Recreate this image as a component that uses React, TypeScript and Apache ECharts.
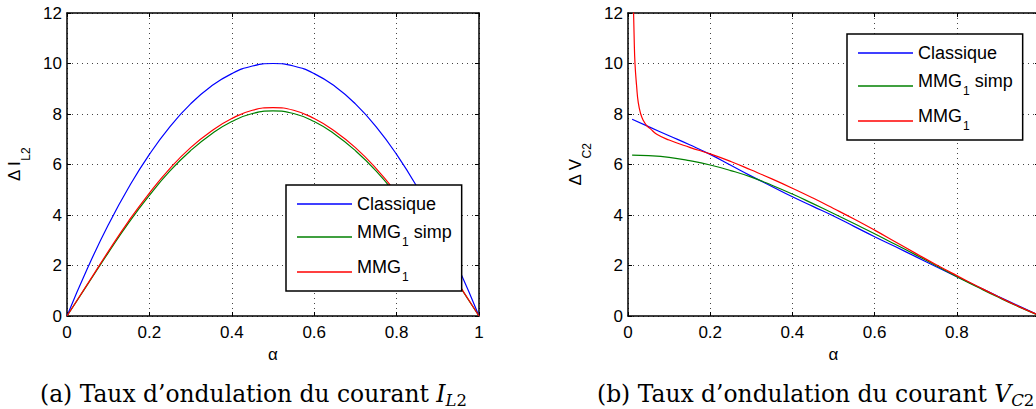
import React, { useEffect, useRef } from "react";
import * as echarts from "echarts";

// ---- data ----
const alphaL = [0, 0.05, 0.1, 0.15, 0.2, 0.25, 0.3, 0.35, 0.4, 0.45, 0.5, 0.55, 0.6, 0.65, 0.7, 0.75, 0.8, 0.85, 0.9, 0.95, 1];
const classiqueL = [0, 1.9, 3.6, 5.1, 6.4, 7.5, 8.4, 9.1, 9.6, 9.9, 10.0, 9.9, 9.6, 9.1, 8.4, 7.5, 6.4, 5.1, 3.6, 1.9, 0];
const mmgSimpL = [0, 1.25, 2.5, 3.7, 4.78, 5.75, 6.55, 7.2, 7.7, 8.02, 8.12, 8.02, 7.7, 7.2, 6.55, 5.75, 4.78, 3.7, 2.5, 1.25, 0];
const mmgL = [0, 1.27, 2.55, 3.77, 4.87, 5.85, 6.67, 7.32, 7.82, 8.15, 8.25, 8.15, 7.82, 7.32, 6.67, 5.85, 4.87, 3.77, 2.55, 1.27, 0];

const alphaR = [0.01, 0.05, 0.1, 0.15, 0.2, 0.25, 0.3, 0.35, 0.4, 0.45, 0.5, 0.55, 0.6, 0.65, 0.7, 0.75, 0.8, 0.85, 0.9, 0.95, 1];
const classiqueR = [7.79, 7.5, 7.14, 6.78, 6.4, 5.97, 5.54, 5.13, 4.72, 4.34, 3.96, 3.55, 3.14, 2.75, 2.35, 1.95, 1.56, 1.17, 0.78, 0.4, 0.03];
const mmgSimpR = [6.37, 6.35, 6.28, 6.15, 5.98, 5.76, 5.5, 5.18, 4.83, 4.45, 4.06, 3.66, 3.26, 2.84, 2.42, 1.99, 1.56, 1.15, 0.75, 0.37, 0.02];
const alphaRed = [0.013, 0.015, 0.017, 0.021, 0.025, 0.031, 0.037, 0.045, 0.054, 0.07, 0.1, 0.15, 0.2, 0.25, 0.3, 0.35, 0.4, 0.45, 0.5, 0.55, 0.6, 0.65, 0.7, 0.75, 0.8, 0.85, 0.9, 0.95, 1];
const mmgR = [12.4, 11.0, 10.0, 9.1, 8.45, 8.0, 7.75, 7.55, 7.42, 7.2, 6.97, 6.68, 6.42, 6.12, 5.78, 5.43, 5.06, 4.67, 4.26, 3.84, 3.4, 2.94, 2.48, 2.03, 1.6, 1.18, 0.77, 0.38, 0.03];

const seriesNames = ["Classique", "MMG1 simp", "MMG1"];
const seriesColors = ["#0000ff", "#008000", "#ff0000"];

const xRange = { min: 0, max: 1, interval: 0.2 };
const yRange = { min: 0, max: 12, interval: 2 };

const captionA = "(a) Taux d\u2019ondulation du courant ";
const captionB = "(b) Taux d\u2019ondulation du courant ";

const SANS = "Liberation Sans";
const SERIF = "DejaVu Serif";

function pairs(xs: number[], ys: number[]) {
  return xs.map((x, i) => [x, ys[i]]);
}

export default function App() {
  const ref = useRef<HTMLDivElement>(null);

  useEffect(() => {
    if (!ref.current) return;
    const chart = echarts.init(ref.current, undefined, { renderer: "svg" });

    const grids = [
      { left: 67, top: 13, width: 412, height: 303, outerBoundsMode: "none", containLabel: false },
      { left: 628, top: 13, width: 411, height: 303, outerBoundsMode: "none", containLabel: false },
    ];

    const split = { show: true, lineStyle: { color: "#444", type: [1, 4] as any, width: 1 } };
    const axisLine = { show: true, onZero: false, lineStyle: { color: "#000", width: 1.5 } };
    const tick = { show: true, inside: true, length: 4, lineStyle: { color: "#000", width: 1 } };
    const label = { color: "#000", fontSize: 17, fontFamily: SANS };

    const xAxes: any[] = [];
    const yAxes: any[] = [];
    const yNames = ["{m|\u0394 I}{s|L2}", "{m|\u0394 V}{s|C2}"];
    [0, 1].forEach((g) => {
      xAxes.push({
        type: "value", gridIndex: g, position: "bottom", ...xRange,
        axisLine, axisTick: tick, splitLine: split,
        axisLabel: { ...label, margin: 8, showMaxLabel: g === 0 },
        name: "\u03b1", nameLocation: "middle", nameGap: 28,
        nameTextStyle: { color: "#000", fontSize: 17, fontFamily: SANS },
      });
      xAxes.push({
        type: "value", gridIndex: g, position: "top", ...xRange,
        axisLine, axisTick: tick, splitLine: { show: false }, axisLabel: { show: false },
      });
      yAxes.push({
        type: "value", gridIndex: g, position: "left", ...yRange,
        axisLine, axisTick: tick, splitLine: split,
        axisLabel: { ...label, margin: 5 },
        name: yNames[g], nameLocation: "middle", nameGap: 35, nameRotate: 90,
        nameTextStyle: {
          color: "#000", fontSize: 17, fontFamily: SANS,
          rich: {
            m: { fontSize: 17, fontFamily: SANS, color: "#000", verticalAlign: "top", lineHeight: 25 },
            s: { fontSize: 12, fontFamily: SANS, color: "#000", verticalAlign: "top", padding: [14, 0, 0, 0] },
          },
        },
      });
      yAxes.push({
        type: "value", gridIndex: g, position: "right", ...yRange,
        axisLine, axisTick: tick, splitLine: { show: false }, axisLabel: { show: false },
      });
    });

    const mk = (name: string, color: string, data: number[][], xi: number, yi: number) => ({
      type: "line", name, data, xAxisIndex: xi, yAxisIndex: yi,
      symbol: "none", showSymbol: false, smooth: 0.5, clip: true,
      lineStyle: { color, width: 1.2 }, itemStyle: { color },
    });

    const series = [
      mk(seriesNames[0], seriesColors[0], pairs(alphaL, classiqueL), 0, 0),
      mk(seriesNames[1], seriesColors[1], pairs(alphaL, mmgSimpL), 0, 0),
      mk(seriesNames[2], seriesColors[2], pairs(alphaL, mmgL), 0, 0),
      mk(seriesNames[0], seriesColors[0], pairs(alphaR, classiqueR), 2, 2),
      mk(seriesNames[1], seriesColors[1], pairs(alphaR, mmgSimpR), 2, 2),
      mk(seriesNames[2], seriesColors[2], pairs(alphaRed, mmgR), 2, 2),
    ];

    const legendBase = {
      data: seriesNames.map((n) => ({ name: n, icon: "rect" })),
      orient: "vertical", selectedMode: false,
      padding: [10, 10, 8, 11], itemGap: 10, itemWidth: 55, itemHeight: 1.4,
      borderColor: "#000", borderWidth: 1.5, backgroundColor: "#fff",
      textStyle: {
        color: "#000", fontSize: 18, fontFamily: SANS,
        rich: {
          c: { fontSize: 18, fontFamily: SANS, color: "#000", verticalAlign: "top", lineHeight: 18 },
          m: { fontSize: 18, fontFamily: SANS, color: "#000", verticalAlign: "top", lineHeight: 28 },
          s: { fontSize: 12, fontFamily: SANS, color: "#000", verticalAlign: "top", padding: [13, 0, 0, 1] },
        },
      },
      formatter: (n: string) =>
        n === "Classique" ? "{c|Classique}" : n === "MMG1 simp" ? "{m|MMG}{s|1}{m| simp}" : "{m|MMG}{s|1}",
    };

    const capRich = {
      t: { fontSize: 23.4, fontFamily: SERIF, color: "#000", verticalAlign: "top", lineHeight: 23.4 },
      i: { fontSize: 23.4, fontFamily: SERIF, fontStyle: "italic", color: "#000", verticalAlign: "top", lineHeight: 23.4 },
      si: { fontSize: 16.5, fontFamily: SERIF, fontStyle: "italic", color: "#000", verticalAlign: "top", padding: [9, 0, 0, 0] },
      s: { fontSize: 16.5, fontFamily: SERIF, color: "#000", verticalAlign: "top", padding: [9, 0, 0, 0] },
    };

    chart.setOption({
      animation: false,
      backgroundColor: "#fff",
      grid: grids,
      xAxis: xAxes,
      yAxis: yAxes,
      series,
      legend: [
        { ...legendBase, left: 286, top: 185 },
        { ...legendBase, left: 847, top: 34 },
      ],
      graphic: [
        {
          type: "text", x: 40, y: 395.5, z: 10,
          style: {
            text: "{t|" + captionA + "}{i|I}{si|L}{s|2}",
            rich: capRich, align: "left", verticalAlign: "middle",
            fontFamily: SERIF, fontSize: 23.4, fill: "#000",
          },
        },
        {
          type: "text", x: 597, y: 395.5, z: 10,
          style: {
            text: "{t|" + captionB + "}{i|V}{si|C}{s|2}",
            rich: capRich, align: "left", verticalAlign: "middle",
            fontFamily: SERIF, fontSize: 23.4, fill: "#000",
          },
        },
      ],
    });

    return () => chart.dispose();
  }, []);

  return (
    <div
      ref={ref}
      style={{ position: "absolute", left: 0, top: 0, width: 1036, height: 409, overflow: "hidden" }}
    />
  );
}
